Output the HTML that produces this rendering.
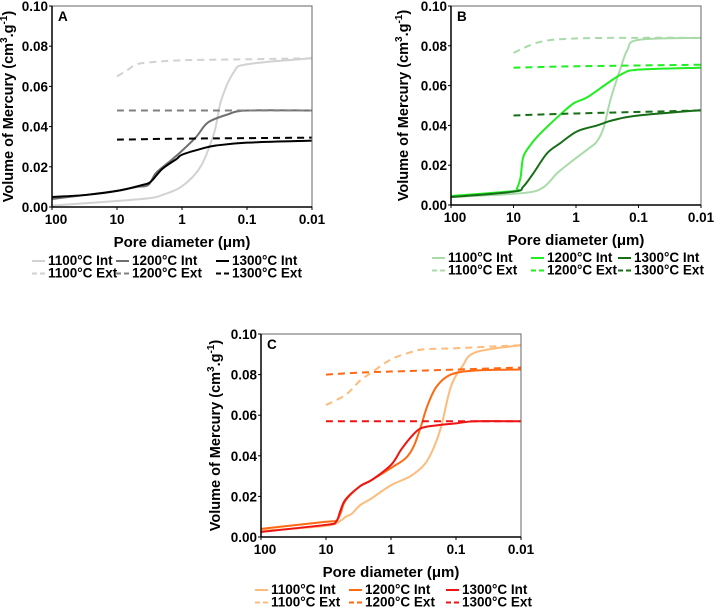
<!DOCTYPE html>
<html><head><meta charset="utf-8"><style>
html,body{margin:0;padding:0;background:#fff}
svg{display:block;font-family:"Liberation Sans",sans-serif;font-weight:bold}
</style></head><body>
<svg id="chart" width="714" height="609" viewBox="0 0 714 609"></svg>
<script>
// Shared tick data
const yTicks = [0.00, 0.02, 0.04, 0.06, 0.08, 0.10];
const yTickLabels = ["0.00","0.02","0.04","0.06","0.08","0.10"];
const xTicks = [100, 10, 1, 0.1, 0.01];
const xTickLabels = ["100","10","1","0.1","0.01"];
const seriesNames = ["1100°C Int","1200°C Int","1300°C Int","1100°C Ext","1200°C Ext","1300°C Ext"];

// Panel A
const a1100IntD = [100,10,3,2,1,0.52,0.32,0.25,0.16,0.1,0.01];
const a1100IntV = [0.0007,0.003,0.0045,0.006,0.0103,0.02,0.037,0.053,0.067,0.071,0.074];
const a1200IntD = [100,30,10,5,3.3,2.5,1.5,1,0.6,0.4,0.2,0.1,0.01];
const a1200IntV = [0.004,0.006,0.008,0.01,0.011,0.017,0.023,0.028,0.035,0.042,0.046,0.048,0.048];
const a1300IntD = [100,30,10,4,3,2,1.2,1,0.5,0.3,0.1,0.01];
const a1300IntV = [0.005,0.006,0.008,0.011,0.0127,0.019,0.024,0.026,0.029,0.0306,0.032,0.033];
const a1100ExtD = [10,7,5,3,1,0.1,0.01];
const a1100ExtV = [0.065,0.068,0.071,0.072,0.073,0.0735,0.074];
const a1200ExtD = [10,1,0.01];
const a1200ExtV = [0.048,0.048,0.048];
const a1300ExtD = [10,1,0.01];
const a1300ExtV = [0.0335,0.034,0.0345];

// Panel B
const b1100IntD = [100,7,3.3,2,1.1,0.59,0.46,0.36,0.28,0.19,0.15,0.1,0.01];
const b1100IntV = [0.004,0.006,0.009,0.016,0.0226,0.029,0.032,0.039,0.053,0.0695,0.078,0.083,0.084];
const b1200IntD = [100,10,8.8,7.7,7,5.4,3.7,2,1.1,0.67,0.32,0.18,0.1,0.01];
const b1200IntV = [0.0045,0.007,0.0084,0.014,0.024,0.030,0.036,0.044,0.051,0.054,0.061,0.066,0.068,0.069];
const b1300IntD = [100,10,7,4.8,2.9,1.8,0.96,0.46,0.25,0.1,0.01];
const b1300IntV = [0.004,0.0067,0.0092,0.016,0.026,0.031,0.037,0.040,0.0427,0.045,0.0477];
const b1100ExtD = [10,3.7,1,0.1,0.01];
const b1100ExtV = [0.0765,0.082,0.0837,0.084,0.084];
const b1200ExtD = [10,1,0.01];
const b1200ExtV = [0.069,0.0697,0.0705];
const b1300ExtD = [10,1,0.01];
const b1300ExtV = [0.045,0.046,0.0475];

// Panel C
const c1100IntD = [100,10,6,5,4,3,2,1,0.5,0.3,0.22,0.17,0.12,0.08,0.05,0.01];
const c1100IntV = [0.003,0.0055,0.008,0.0099,0.0115,0.0156,0.019,0.0255,0.030,0.036,0.044,0.054,0.074,0.084,0.091,0.0945];
const c1200IntD = [100,10,7,6,5,3,2,1,0.6,0.45,0.35,0.28,0.2,0.12,0.05,0.01];
const c1200IntV = [0.004,0.0075,0.008,0.0115,0.018,0.025,0.028,0.034,0.0387,0.0445,0.054,0.064,0.074,0.080,0.082,0.0825];
const c1300IntD = [100,10,7,6,5,3,2,1,0.7,0.5,0.35,0.2,0.1,0.05,0.01];
const c1300IntV = [0.0025,0.006,0.0075,0.013,0.0185,0.025,0.028,0.0355,0.043,0.049,0.0535,0.055,0.056,0.057,0.057];
const c1100ExtD = [10,5,3,2,1,0.5,0.3,0.1,0.01];
const c1100ExtV = [0.065,0.070,0.077,0.081,0.0875,0.091,0.0925,0.093,0.0945];
const c1200ExtD = [10,3,1,0.1,0.01];
const c1200ExtV = [0.080,0.081,0.0815,0.0825,0.0835];
const c1300ExtD = [10,1,0.01];
const c1300ExtV = [0.057,0.057,0.057];

const NS = "http://www.w3.org/2000/svg";
const svg = document.getElementById("chart");
function mk(tag, attrs, parent){const e=document.createElementNS(NS,tag);for(const k in attrs)e.setAttribute(k,attrs[k]);(parent||svg).appendChild(e);return e;}

function smoothPath(pts){
  let d="M"+pts[0][0].toFixed(2)+","+pts[0][1].toFixed(2);
  for(let i=0;i<pts.length-1;i++){
    const p0=pts[Math.max(0,i-1)],p1=pts[i],p2=pts[i+1],p3=pts[Math.min(pts.length-1,i+2)];
    const t=6;
    const c1=[p1[0]+(p2[0]-p0[0])/t,p1[1]+(p2[1]-p0[1])/t];
    const c2=[p2[0]-(p3[0]-p1[0])/t,p2[1]-(p3[1]-p1[1])/t];
    d+=" C"+c1[0].toFixed(2)+","+c1[1].toFixed(2)+" "+c2[0].toFixed(2)+","+c2[1].toFixed(2)+" "+p2[0].toFixed(2)+","+p2[1].toFixed(2);
  }
  return d;
}

function drawPanel(p){
  const g=mk("g",{});
  
  
  const xScale=d=>p.x0+(2-Math.log10(d))/4*(p.x1-p.x0);
  const yScale=v=>p.y1-v/0.1*(p.y1-p.y0);
  p.series.forEach((s,i)=>{
    const pts=s.d.map((d,j)=>[xScale(d),yScale(s.v[j])]);
    const path=mk("path",{d:smoothPath(pts),fill:"none",stroke:s.c,"stroke-width":2,"stroke-dasharray":s.dash?"7,5":"none"},g);
    
    
  });
  const fr=mk("rect",{x:p.x0,y:p.y0,width:p.x1-p.x0,height:p.y1-p.y0,fill:"none",stroke:"#666","stroke-width":1},g);
  
  
  const ax=mk("path",{d:`M${p.x0},${p.y0}V${p.y1}H${p.x1}`,fill:"none",stroke:"#000","stroke-width":1.5},g);
  
  
  yTicks.forEach((v,i)=>{
    const y=yScale(v);
    mk("line",{x1:p.x0-3,x2:p.x0,y1:y,y2:y,stroke:"#000","stroke-width":1},g);
    const t=mk("text",{x:p.x0-4,y:y+5,"text-anchor":"end","font-size":13.5},g);
    t.textContent=yTickLabels[i];
    
    
  });
  xTicks.forEach((d,i)=>{
    const x=xScale(d);
    mk("line",{x1:x,x2:x,y1:p.y1,y2:p.y1+3,stroke:"#000","stroke-width":1},g);
    const t=mk("text",{x:x+(i==0?4:0),y:p.y1+17,"text-anchor":"middle","font-size":13.5},g);
    t.textContent=xTickLabels[i];
    
    
  });
  const lt=mk("text",{x:p.x0+6,y:p.y0+15,"font-size":13.5},g);
  lt.textContent=p.letter;
  
  
  const xt=mk("text",{x:(p.x0+p.x1)/2,y:p.y1+40,"text-anchor":"middle","font-size":15},g);
  xt.textContent="Pore diameter (μm)";
  
  
  const cy=(p.y0+p.y1)/2;
  const yt=mk("text",{x:0,y:0,"text-anchor":"middle","font-size":14.5,transform:`translate(${p.titleX},${cy}) rotate(-90)`},g);
  yt.innerHTML='Volume of Mercury (cm<tspan dy="-6" font-size="10">3</tspan><tspan dy="6">.g</tspan><tspan dy="-6" font-size="10">-1</tspan><tspan dy="6">)</tspan>';
  
  
  for(let i=0;i<6;i++){
    const col=i%3,row=Math.floor(i/3);
    const s=p.series[i];
    const ly=p.legY+row*12.5;
    const lx=p.legX[col];
    const le=mk("g",{},g);
    
    
    mk("line",{x1:lx,x2:lx+13,y1:ly-4,y2:ly-4,stroke:s.c,"stroke-width":2,"stroke-dasharray":s.dash?"5,3":"none"},le);
    const t=mk("text",{x:lx+16,y:ly,"font-size":13.5},le);
    t.textContent=seriesNames[i];
  }
}

drawPanel({letter:"A",x0:52,x1:312,y0:6,y1:207,titleX:13,legY:265,legX:[32,116,216],
  series:[{d:a1100IntD,v:a1100IntV,c:"#d2d2d2"},{d:a1200IntD,v:a1200IntV,c:"#6e6e6e"},{d:a1300IntD,v:a1300IntV,c:"#000"},
          {d:a1100ExtD,v:a1100ExtV,c:"#d2d2d2",dash:1},{d:a1200ExtD,v:a1200ExtV,c:"#808080",dash:1},{d:a1300ExtD,v:a1300ExtV,c:"#000",dash:1}]});
drawPanel({letter:"B",x0:451,x1:701,y0:6,y1:205,titleX:408,legY:262,legX:[432,531,618],
  series:[{d:b1100IntD,v:b1100IntV,c:"#a9dba9"},{d:b1200IntD,v:b1200IntV,c:"#1fee1f"},{d:b1300IntD,v:b1300IntV,c:"#176e17"},
          {d:b1100ExtD,v:b1100ExtV,c:"#a9dba9",dash:1},{d:b1200ExtD,v:b1200ExtV,c:"#1fee1f",dash:1},{d:b1300ExtD,v:b1300ExtV,c:"#176e17",dash:1}]});
drawPanel({letter:"C",x0:261,x1:521,y0:334,y1:537,titleX:220,legY:594,legX:[255,349,446],
  series:[{d:c1100IntD,v:c1100IntV,c:"#fdbb7c"},{d:c1200IntD,v:c1200IntV,c:"#ff6912"},{d:c1300IntD,v:c1300IntV,c:"#ee1414"},
          {d:c1100ExtD,v:c1100ExtV,c:"#fdbb7c",dash:1},{d:c1200ExtD,v:c1200ExtV,c:"#ff6912",dash:1},{d:c1300ExtD,v:c1300ExtV,c:"#ee1414",dash:1}]});
</script>
</body></html>
